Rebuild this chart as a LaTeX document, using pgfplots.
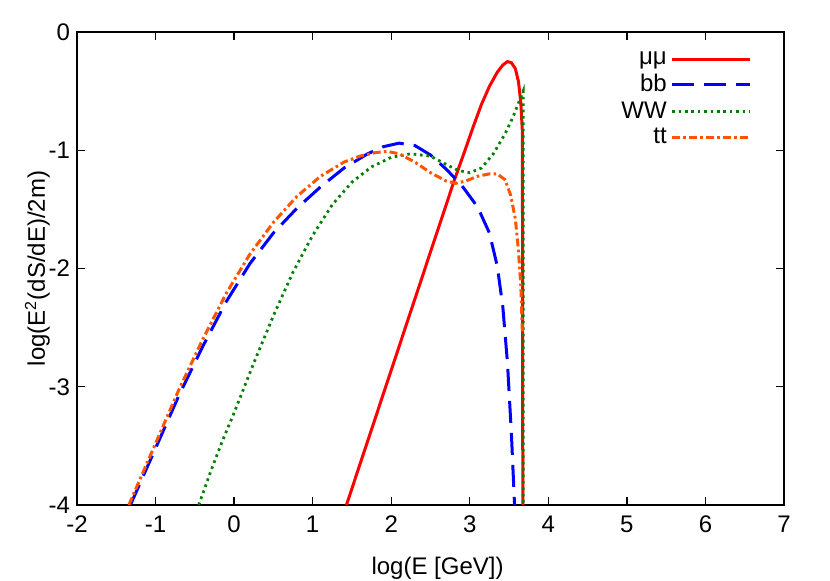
\documentclass[border=0pt]{standalone}
\usepackage{fontspec}
\setmainfont{Liberation Sans}
\usepackage{pgfplots}
\pgfplotsset{compat=1.18}
\definecolor{ttorange}{RGB}{255,85,0}
\definecolor{wwgreen}{RGB}{0,128,0}
\begin{document}
\begin{tikzpicture}
\useasboundingbox (0,0) rectangle (415pt,290.5pt);
\begin{axis}[at={(38.5pt,38pt)}, anchor=south west, scale only axis,
  width=353.5pt, height=236.5pt,
  xmin=-2, xmax=7, ymin=-4, ymax=0,
  xtick={-2,-1,0,1,2,3,4,5,6,7}, xticklabels={-2,-1,0,1,2,3,4,5,6,7},
  ytick={-4,-3,-2,-1,0}, yticklabels={-4,-3,-2,-1,0},
  tick align=inside, major tick length=4pt,
  tick style={black, line width=0.7pt},
  axis line style={line width=0.7pt},
  ticklabel style={font=\fontsize{12}{14}\selectfont},
  xticklabel style={yshift=-2pt},
  label style={font=\fontsize{12}{14}\selectfont},
  xlabel={log(E [GeV])},
  ylabel={log(E\textsuperscript{2}(dS/dE)/2m)},
  xlabel style={at={(axis description cs:0.51,0)}, anchor=center, yshift=-31.5pt},
  ylabel style={at={(axis description cs:-0.056,0.5)}, anchor=center},
  legend cell align=right, legend plot pos=right,
  legend image code/.code={\draw[#1] (0pt,0pt) -- (39pt,0pt);},
  legend style={draw=none, fill=none, at={(rel axis cs:0.955,0.968)}, anchor=north east,
    font=\fontsize{12}{14}\selectfont, row sep=-0.5pt, inner sep=0pt,
    /tikz/every even column/.append style={column sep=10pt}},
]
\addplot[red, line width=1.5pt] coordinates {
(1.43,-4.00) (2.00,-2.86) (2.50,-1.86) (2.80,-1.26) (2.95,-0.98) (3.05,-0.79)
(3.15,-0.61) (3.25,-0.46) (3.35,-0.34) (3.42,-0.28) (3.48,-0.25) (3.53,-0.26)
(3.58,-0.31) (3.62,-0.42) (3.65,-0.60) (3.67,-0.85) (3.675,-4.00)};
\addlegendentry{μμ}
\addplot[blue, line width=1.5pt, dash pattern=on 11pt off 5pt] coordinates {
(-1.32,-4.00) (-1.00,-3.52) (-0.70,-3.07) (-0.40,-2.66) (-0.10,-2.28) (0.20,-1.96)
(0.50,-1.70) (0.80,-1.49) (1.10,-1.31) (1.40,-1.15) (1.70,-1.03) (1.90,-0.97)
(2.10,-0.94) (2.30,-0.96) (2.50,-1.04) (2.70,-1.16) (2.90,-1.30) (3.10,-1.48)
(3.25,-1.70) (3.35,-1.98) (3.42,-2.32) (3.48,-2.80) (3.53,-3.40) (3.57,-4.00)};
\addlegendentry{bb}
\addplot[wwgreen, line width=1.4pt, dash pattern=on 1.3pt off 1.9pt] coordinates {
(-0.45,-4.00) (-0.30,-3.72) (-0.15,-3.46) (0.00,-3.22) (0.25,-2.80) (0.50,-2.40)
(0.75,-2.03) (1.00,-1.72) (1.25,-1.46) (1.50,-1.27) (1.75,-1.14) (2.00,-1.06)
(2.25,-1.03) (2.50,-1.05) (2.70,-1.12) (2.85,-1.17) (3.00,-1.19) (3.15,-1.15)
(3.30,-1.03) (3.45,-0.86) (3.55,-0.72) (3.62,-0.60) (3.68,-0.50) (3.68,-4.00)};
\addlegendentry{WW}
\addplot[ttorange, line width=1.5pt, dash pattern=on 4pt off 1.6pt on 1.3pt off 1.6pt] coordinates {
(-1.34,-4.00) (-1.00,-3.48) (-0.70,-3.02) (-0.40,-2.60) (-0.10,-2.21) (0.20,-1.88)
(0.50,-1.61) (0.80,-1.39) (1.10,-1.22) (1.40,-1.10) (1.60,-1.05) (1.80,-1.02)
(1.95,-1.01) (2.10,-1.03) (2.30,-1.10) (2.50,-1.19) (2.70,-1.26) (2.82,-1.28)
(2.95,-1.26) (3.10,-1.22) (3.25,-1.20) (3.35,-1.20) (3.45,-1.25) (3.52,-1.38)
(3.58,-1.58) (3.62,-1.85) (3.65,-2.15) (3.67,-2.55)};
\addlegendentry{tt}
\end{axis}
\end{tikzpicture}
\end{document}
